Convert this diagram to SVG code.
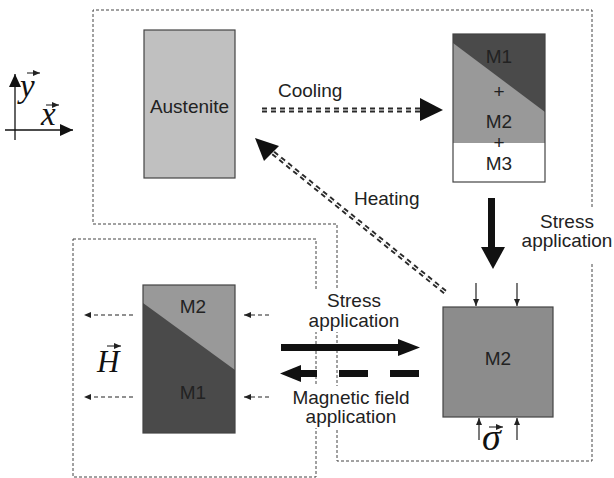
<svg xmlns="http://www.w3.org/2000/svg" width="614" height="478" viewBox="0 0 614 478">
<defs>
<style>
.t{font-family:"Liberation Sans",Arial,sans-serif;font-size:19px;fill:#222}
.m{font-family:"Liberation Serif","Times New Roman",serif;font-style:italic;fill:#111}
.reg{fill:none;stroke:#444;stroke-width:1;stroke-dasharray:3 2}
.box{stroke:#444;stroke-width:1.2}
.thin{stroke:#222;stroke-width:1.2;fill:none}
.dthin{stroke:#222;stroke-width:1.2;fill:none;stroke-dasharray:4 3}
.dd{stroke:#2a2a2a;stroke-width:5;fill:none;stroke-dasharray:5 4}
.ddw{stroke:#fff;stroke-width:1.2;fill:none;stroke-dasharray:5 4}
</style>
<marker id="sa" markerWidth="8" markerHeight="8" refX="7" refY="4" orient="auto" markerUnits="userSpaceOnUse">
<path d="M0,1 L7,4 L0,7 Z" fill="#222"/>
</marker>
<marker id="ax" markerWidth="14" markerHeight="14" refX="13" refY="7" orient="auto" markerUnits="userSpaceOnUse">
<path d="M0,1 L13,7 L0,13 Z" fill="#111"/>
</marker>
</defs>
<rect width="614" height="478" fill="#fff"/>

<g id="regions">
<path class="reg" d="M592,207 L592,10 L93,10 L93,224 L337,224 L337,461 L592,461 L592,262"/>
<rect class="reg" x="73" y="239" width="243" height="238"/>
</g>

<g id="axes">
<line x1="15" y1="140" x2="15" y2="74" stroke="#111" stroke-width="1.3" marker-end="url(#ax)"/>
<line x1="5" y1="130" x2="73" y2="130" stroke="#111" stroke-width="1.3" marker-end="url(#ax)"/>
<text class="m" x="20" y="97" font-size="33">y</text>
<line x1="27" y1="73" x2="40" y2="73" stroke="#111" stroke-width="1" marker-end="url(#sa)"/>
<text class="m" x="41" y="125" font-size="33">x</text>
<line x1="46" y1="105" x2="59" y2="105" stroke="#111" stroke-width="1" marker-end="url(#sa)"/>
</g>

<g id="austenite">
<rect class="box" x="144" y="30" width="91" height="148" fill="#c0c0c0"/>
<text class="t" x="189.5" y="113" text-anchor="middle">Austenite</text>
</g>

<g id="mix">
<rect x="453" y="34" width="92" height="148" fill="#999"/>
<polygon points="453,34 545,34 545,112 453,43" fill="#4a4a4a"/>
<rect x="453" y="143" width="92" height="39" fill="#fff"/>
<rect class="box" x="453" y="34" width="92" height="148" fill="none"/>
<text class="t" x="499" y="63" text-anchor="middle">M1</text>
<text class="t" x="499" y="98" text-anchor="middle">+</text>
<text class="t" x="499" y="128" text-anchor="middle">M2</text>
<text class="t" x="499" y="149" text-anchor="middle">+</text>
<text class="t" x="499" y="170" text-anchor="middle">M3</text>
</g>

<g id="m2big">
<rect class="box" x="443" y="307" width="110" height="110" fill="#8c8c8c"/>
<text class="t" x="498" y="365" text-anchor="middle">M2</text>
<line class="thin" x1="476" y1="283" x2="476" y2="306" marker-end="url(#sa)"/>
<line class="thin" x1="517" y1="283" x2="517" y2="306" marker-end="url(#sa)"/>
<line class="thin" x1="479" y1="440" x2="479" y2="418" marker-end="url(#sa)"/>
<line class="thin" x1="517" y1="440" x2="517" y2="418" marker-end="url(#sa)"/>
<text class="m" x="482" y="450" font-size="38">σ</text>
<line x1="489" y1="427" x2="503" y2="427" stroke="#111" stroke-width="1" marker-end="url(#sa)"/>
</g>

<g id="m12">
<rect x="143" y="285" width="92" height="148" fill="#4a4a4a"/>
<polygon points="143,285 235,285 235,370 143,303" fill="#999"/>
<rect class="box" x="143" y="285" width="92" height="148" fill="none"/>
<text class="t" x="193" y="313" text-anchor="middle">M2</text>
<text class="t" x="193" y="399" text-anchor="middle">M1</text>
<line class="dthin" x1="133" y1="315" x2="84" y2="315" marker-end="url(#sa)"/>
<line class="dthin" x1="133" y1="397" x2="84" y2="397" marker-end="url(#sa)"/>
<line class="dthin" x1="269" y1="315" x2="244" y2="315" marker-end="url(#sa)"/>
<line class="dthin" x1="269" y1="397" x2="244" y2="397" marker-end="url(#sa)"/>
<text class="m" x="97" y="372" font-size="31">H</text>
<line x1="107" y1="346" x2="121" y2="346" stroke="#111" stroke-width="1" marker-end="url(#sa)"/>
</g>

<g id="connectors">
<line class="dd" x1="262" y1="110" x2="420" y2="110"/>
<line class="ddw" x1="262" y1="110" x2="420" y2="110"/>
<polygon points="420,98 443,110 420,121" fill="#111"/>
<text class="t" x="278" y="97">Cooling</text>

<line class="dd" x1="445" y1="292" x2="272" y2="152"/>
<line class="ddw" x1="445" y1="292" x2="272" y2="152"/>
<polygon points="255,138 279,146 264,161" fill="#111"/>
<text class="t" x="354" y="205">Heating</text>

<rect x="488" y="198" width="7" height="49" fill="#111"/>
<polygon points="481,247 505,247 493,269" fill="#111"/>
<rect x="518" y="210" width="96" height="44" fill="#fff"/>
<text class="t" x="567" y="228" text-anchor="middle">Stress</text>
<text class="t" x="567" y="247" text-anchor="middle">application</text>

<rect x="303" y="290" width="102" height="42" fill="#fff"/>
<text class="t" x="354" y="307" text-anchor="middle">Stress</text>
<text class="t" x="354" y="327" text-anchor="middle">application</text>
<rect x="281" y="344" width="118" height="7" fill="#111"/>
<polygon points="398,339 420,347.5 398,356" fill="#111"/>

<polygon points="280,373.5 301,365 301,382" fill="#111"/>
<rect x="300" y="370" width="17" height="7" fill="#111"/>
<rect x="339" y="370" width="29" height="7" fill="#111"/>
<rect x="390" y="370" width="29" height="7" fill="#111"/>
<rect x="289" y="386" width="124" height="42" fill="#fff"/>
<text class="t" x="351" y="404" text-anchor="middle">Magnetic field</text>
<text class="t" x="351" y="423" text-anchor="middle">application</text>
</g>
</svg>
